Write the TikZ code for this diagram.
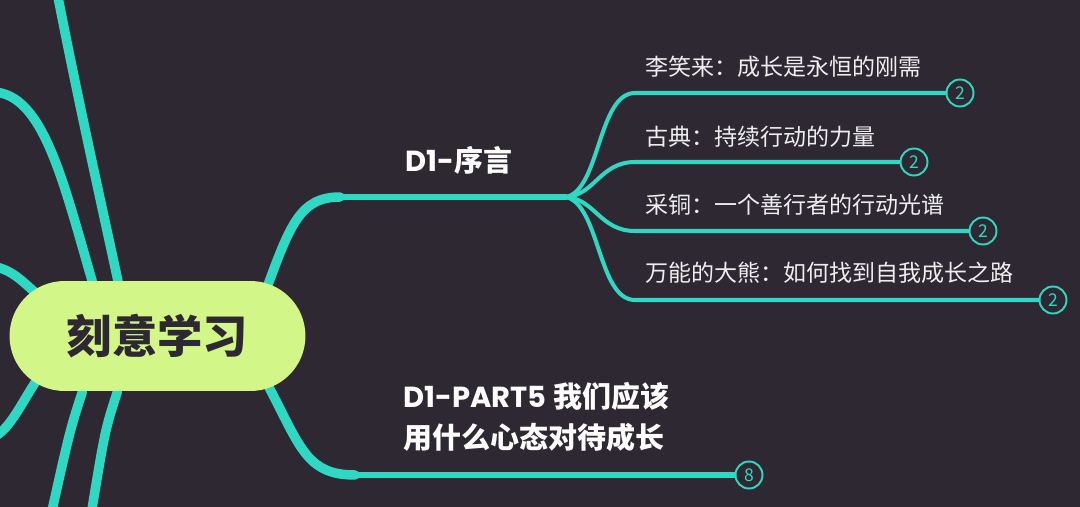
\documentclass[tikz,border=0pt]{standalone}
\usepackage{fontspec}
\setmainfont{Noto Sans CJK SC}
\newfontfamily\latinfont{Poppins}
\usetikzlibrary{positioning}
\definecolor{bgdark}{HTML}{2E2833}
\definecolor{teal}{HTML}{2ED8C2}
\definecolor{lime}{HTML}{D3F688}
\definecolor{itemtext}{HTML}{EEEEEE}
\pgfdeclarelayer{back}
\pgfdeclarelayer{lines}
\pgfsetlayers{back,lines,main}
\tikzset{hub/.style = {fill=lime, rectangle, rounded corners=1.1cm, minimum width=5.92cm, minimum height=2.2cm, text=bgdark, font=\fontsize{25.8}{30}\selectfont\bfseries},
         topic/.style = {text=white, anchor=west, inner sep=0pt, font=\fontsize{16.5}{23.2}\selectfont\bfseries},
         item/.style = {text=itemtext, anchor=west, inner sep=0pt, font=\fontsize{13.1}{16}\selectfont},
         badge/.style = {draw=teal, fill=bgdark, line width=1.1pt, circle, minimum size=0.54cm, inner sep=0pt, text=teal, font=\fontsize{10}{12}\selectfont},
         thickbranch/.style = {draw=teal, line width=5.4pt, line cap=round},
         midbranch/.style = {draw=teal, line width=3.4pt, line cap=round},
         thinbranch/.style = {draw=teal, line width=2.3pt, line cap=round}}
\begin{document}
\begin{tikzpicture}[x=0.02cm, y=-0.02cm]
        \begin{pgfonlayer}{back}
        \fill[bgdark] (0,0) rectangle (1080,507);
        \end{pgfonlayer}
        \useasboundingbox (0,0) rectangle (1080,507);
        \clip (0,0) rectangle (1080,507);

        \node[hub] (hub) at (157.5,336) {刻意学习};

        \node[topic] (preface) at (405,160) {{\latinfont D1-}序言};
        \node[topic, align=left] (part5) at (403,417) {{\latinfont D1-PART5} 我们应该\\用什么心态对待成长};

        \node[item] (li) at (645,67) {李笑来：成长是永恒的刚需};
        \node[item] (gu) at (645,137) {古典：持续行动的力量};
        \node[item] (cai) at (645,205) {采铜：一个善行者的行动光谱};
        \node[item] (xiong) at (645,273) {万能的大熊：如何找到自我成长之路};

        \node[badge] (b1) at (960,93) {2};
        \node[badge] (b2) at (914,162) {2};
        \node[badge] (b3) at (983,231) {2};
        \node[badge] (b4) at (1053,300) {2};
        \node[badge] (b5) at (749,475) {8};

        \coordinate (fork) at (566,197);
        \coordinate (bend) at (340,197);
        \coordinate (knee) at (355,475);
        \coordinate (la) at (57,-8);
        \coordinate (lb) at (-8,92);
        \coordinate (lc) at (-8,266);
        \coordinate (ld) at (-8,438);
        \coordinate (le) at (51,515);
        \coordinate (lf) at (91,515);

        \begin{pgfonlayer}{lines}
        \draw[thickbranch] (la) .. controls (80,110) and (105,220) .. ([xshift=-0.75cm,yshift=-0.2cm]hub.north);
        \draw[thickbranch] (lb) .. controls (45,92) and (65,190) .. ([xshift=-1.25cm,yshift=-0.2cm]hub.north);
        \draw[thickbranch] (lc) .. controls (15,270) and (25,285) .. ([xshift=0.6cm,yshift=-0.3cm]hub.north west);
        \draw[thickbranch] ([xshift=0.6cm,yshift=0.3cm]hub.south west) .. controls (20,405) and (10,430) .. (ld);
        \draw[thickbranch] ([xshift=-1.5cm]hub.south) .. controls (70,430) .. (le);
        \draw[thickbranch] ([xshift=-0.8cm]hub.south) .. controls (105,430) .. (lf);

        \draw[thickbranch] ([xshift=-0.8cm,yshift=-0.2cm]hub.north east) .. controls (290,225) and (300,197) .. (bend);
        \draw[midbranch] (bend) -- (fork);
        \draw[thinbranch] (fork) .. controls (600,190) and (598,93) .. (635,93) -- (b1.west);
        \draw[thinbranch] (fork) .. controls (595,195) and (600,162) .. (635,162) -- (b2.west);
        \draw[thinbranch] (fork) .. controls (595,199) and (600,231) .. (635,231) -- (b3.west);
        \draw[thinbranch] (fork) .. controls (600,205) and (598,300) .. (635,300) -- (b4.west);

        \draw[thickbranch] ([xshift=-0.8cm,yshift=0.2cm]hub.south east) .. controls (300,445) and (305,475) .. (knee);
        \draw[midbranch] (knee) -- (b5.west);
        \end{pgfonlayer}
    \end{tikzpicture}
\end{document}
